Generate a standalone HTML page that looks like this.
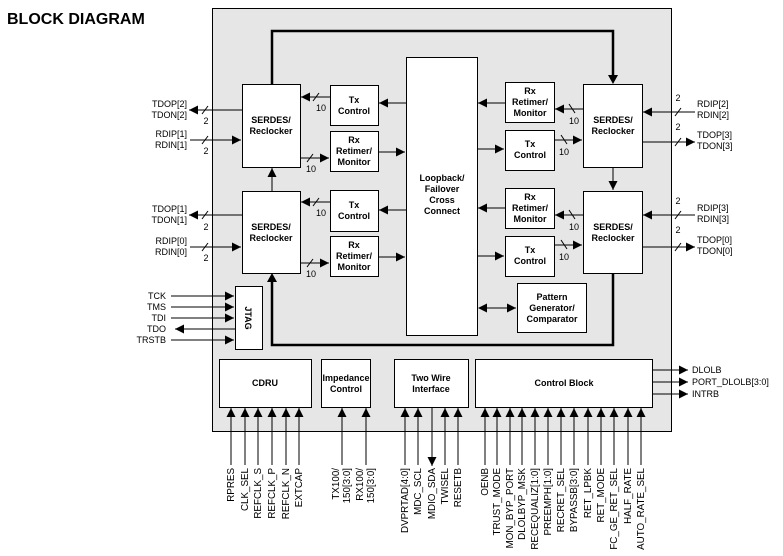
<!DOCTYPE html>
<html><head><meta charset="utf-8"><style>
html,body{margin:0;padding:0;background:#fff}
svg{display:block}
text{font-family:"Liberation Sans",Arial,sans-serif;fill:#000}
.b{font-weight:bold;font-size:9px;text-anchor:middle}
.s{font-size:9px}
.v{font-size:9.8px}
.n{font-size:9px;text-anchor:middle}
rect.bx{fill:#fff;stroke:#000;stroke-width:1}
line{stroke:#000;stroke-width:1}
</style></head><body>
<svg width="783" height="556" viewBox="0 0 783 556" xmlns="http://www.w3.org/2000/svg">
<defs>
<marker id="a" markerUnits="userSpaceOnUse" markerWidth="10" markerHeight="10" refX="9" refY="5" orient="auto"><path d="M0,0.5 L9,5 L0,9.5 Z" fill="#000"/></marker>
<marker id="s" markerUnits="userSpaceOnUse" markerWidth="10" markerHeight="10" refX="1" refY="5" orient="auto"><path d="M9,0.5 L0,5 L9,9.5 Z" fill="#000"/></marker>
</defs>
<text x="7" y="24" style="font-weight:bold;font-size:16px">BLOCK DIAGRAM</text>
<rect x="212.5" y="8.5" width="459" height="423" fill="#e6e6e6" stroke="#000"/>

<polyline points="272,84 272,31 613,31 613,76" fill="none" stroke="#000" stroke-width="2.5"/>
<path d="M608,75 L618,75 L613,84 Z"/>
<polyline points="613,273 613,345 272,345 272,282" fill="none" stroke="#000" stroke-width="2.5"/>
<path d="M267,282 L277,282 L272,273 Z"/>

<rect class="bx" x="242.5" y="84.5" width="58" height="83"/>
<text class="b" x="271" y="123">SERDES/</text><text class="b" x="271" y="134">Reclocker</text>
<rect class="bx" x="242.5" y="191.5" width="58" height="82"/>
<text class="b" x="271" y="230">SERDES/</text><text class="b" x="271" y="241">Reclocker</text>
<rect class="bx" x="330.5" y="85.5" width="48" height="40"/>
<text class="b" x="354" y="103">Tx</text><text class="b" x="354" y="114">Control</text>
<rect class="bx" x="330.5" y="131.5" width="48" height="40"/>
<text class="b" x="354" y="143">Rx</text><text class="b" x="354" y="154">Retimer/</text><text class="b" x="354" y="165">Monitor</text>
<rect class="bx" x="330.5" y="190.5" width="48" height="41"/>
<text class="b" x="354" y="208">Tx</text><text class="b" x="354" y="219">Control</text>
<rect class="bx" x="330.5" y="236.5" width="48" height="40"/>
<text class="b" x="354" y="248">Rx</text><text class="b" x="354" y="259">Retimer/</text><text class="b" x="354" y="270">Monitor</text>
<rect class="bx" x="406.5" y="57.5" width="71" height="278"/>
<text class="b" x="442" y="181">Loopback/</text><text class="b" x="442" y="192">Failover</text><text class="b" x="442" y="203">Cross</text><text class="b" x="442" y="214">Connect</text>
<rect class="bx" x="505.5" y="82.5" width="49" height="40"/>
<text class="b" x="530" y="94">Rx</text><text class="b" x="530" y="105">Retimer/</text><text class="b" x="530" y="116">Monitor</text>
<rect class="bx" x="505.5" y="130.5" width="49" height="40"/>
<text class="b" x="530" y="147">Tx</text><text class="b" x="530" y="158">Control</text>
<rect class="bx" x="583.5" y="84.5" width="59" height="83"/>
<text class="b" x="613" y="123">SERDES/</text><text class="b" x="613" y="134">Reclocker</text>
<rect class="bx" x="505.5" y="188.5" width="49" height="40"/>
<text class="b" x="530" y="200">Rx</text><text class="b" x="530" y="211">Retimer/</text><text class="b" x="530" y="222">Monitor</text>
<rect class="bx" x="505.5" y="236.5" width="49" height="40"/>
<text class="b" x="530" y="253">Tx</text><text class="b" x="530" y="264">Control</text>
<rect class="bx" x="583.5" y="191.5" width="59" height="82"/>
<text class="b" x="613" y="230">SERDES/</text><text class="b" x="613" y="241">Reclocker</text>
<rect class="bx" x="517.5" y="283.5" width="69" height="49"/>
<text class="b" x="552" y="300">Pattern</text><text class="b" x="552" y="311">Generator/</text><text class="b" x="552" y="322">Comparator</text>
<rect class="bx" x="235.5" y="286.5" width="27" height="63"/>
<text class="b" transform="translate(245,318) rotate(90)">JTAG</text>

<rect class="bx" x="219.5" y="359.5" width="92" height="48"/>
<text class="b" x="265" y="386">CDRU</text>
<rect class="bx" x="321.5" y="359.5" width="49" height="48"/>
<text class="b" x="346" y="381">Impedance</text><text class="b" x="346" y="392">Control</text>
<rect class="bx" x="394.5" y="359.5" width="74" height="48"/>
<text class="b" x="431" y="381">Two Wire</text><text class="b" x="431" y="392">Interface</text>
<rect class="bx" x="475.5" y="359.5" width="177" height="48"/>
<text class="b" x="564" y="386">Control Block</text>

<line x1="272" y1="191" x2="272" y2="168" marker-end="url(#a)"/>
<line x1="613" y1="167" x2="613" y2="190" marker-end="url(#a)"/>

<line x1="330" y1="97" x2="301" y2="97" marker-end="url(#a)"/><line x1="313" y1="101" x2="319" y2="93"/><text class="n" x="321" y="111">10</text>
<line x1="301" y1="158" x2="329" y2="158" marker-end="url(#a)"/><line x1="307" y1="162" x2="313" y2="154"/><text class="n" x="311" y="172">10</text>
<line x1="330" y1="202" x2="301" y2="202" marker-end="url(#a)"/><line x1="313" y1="206" x2="319" y2="198"/><text class="n" x="321" y="216">10</text>
<line x1="301" y1="263" x2="329" y2="263" marker-end="url(#a)"/><line x1="307" y1="267" x2="313" y2="259"/><text class="n" x="311" y="277">10</text>
<line x1="406" y1="103" x2="379" y2="103" marker-end="url(#a)"/>
<line x1="379" y1="152" x2="405" y2="152" marker-end="url(#a)"/>
<line x1="406" y1="210" x2="379" y2="210" marker-end="url(#a)"/>
<line x1="379" y1="257" x2="405" y2="257" marker-end="url(#a)"/>

<line x1="505" y1="103" x2="478" y2="103" marker-end="url(#a)"/>
<line x1="583" y1="109" x2="555" y2="109" marker-end="url(#a)"/><line x1="569" y1="104" x2="575" y2="113"/><text class="n" x="574" y="124">10</text>
<line x1="478" y1="149" x2="504" y2="149" marker-end="url(#a)"/>
<line x1="555" y1="140" x2="582" y2="140" marker-end="url(#a)"/><line x1="561" y1="135" x2="567" y2="144"/><text class="n" x="564" y="155">10</text>
<line x1="505" y1="208" x2="478" y2="208" marker-end="url(#a)"/>
<line x1="583" y1="215" x2="555" y2="215" marker-end="url(#a)"/><line x1="569" y1="210" x2="575" y2="219"/><text class="n" x="574" y="230">10</text>
<line x1="478" y1="256" x2="504" y2="256" marker-end="url(#a)"/>
<line x1="555" y1="245" x2="582" y2="245" marker-end="url(#a)"/><line x1="561" y1="240" x2="567" y2="249"/><text class="n" x="564" y="260">10</text>
<line x1="479" y1="308" x2="516" y2="308" marker-start="url(#s)" marker-end="url(#a)"/>

<line x1="242" y1="110" x2="189" y2="110" marker-end="url(#a)"/><line x1="202" y1="114" x2="208" y2="106"/><text class="n" x="206" y="124">2</text>
<text class="s" x="187" y="107" text-anchor="end">TDOP[2]</text><text class="s" x="187" y="118" text-anchor="end">TDON[2]</text>
<line x1="190" y1="140" x2="241" y2="140" marker-end="url(#a)"/><line x1="202" y1="144" x2="208" y2="136"/><text class="n" x="206" y="154">2</text>
<text class="s" x="187" y="137" text-anchor="end">RDIP[1]</text><text class="s" x="187" y="148" text-anchor="end">RDIN[1]</text>
<line x1="242" y1="215" x2="189" y2="215" marker-end="url(#a)"/><line x1="202" y1="219" x2="208" y2="211"/><text class="n" x="206" y="230">2</text>
<text class="s" x="187" y="212" text-anchor="end">TDOP[1]</text><text class="s" x="187" y="223" text-anchor="end">TDON[1]</text>
<line x1="190" y1="247" x2="241" y2="247" marker-end="url(#a)"/><line x1="202" y1="251" x2="208" y2="243"/><text class="n" x="206" y="261">2</text>
<text class="s" x="187" y="244" text-anchor="end">RDIP[0]</text><text class="s" x="187" y="255" text-anchor="end">RDIN[0]</text>

<line x1="171" y1="296" x2="234" y2="296" marker-end="url(#a)"/><text class="s" x="166" y="299" text-anchor="end">TCK</text>
<line x1="171" y1="307" x2="234" y2="307" marker-end="url(#a)"/><text class="s" x="166" y="310" text-anchor="end">TMS</text>
<line x1="171" y1="318" x2="234" y2="318" marker-end="url(#a)"/><text class="s" x="166" y="321" text-anchor="end">TDI</text>
<line x1="235" y1="329" x2="175" y2="329" marker-end="url(#a)"/><text class="s" x="166" y="332" text-anchor="end">TDO</text>
<line x1="171" y1="340" x2="234" y2="340" marker-end="url(#a)"/><text class="s" x="166" y="343" text-anchor="end">TRSTB</text>

<line x1="695" y1="112" x2="643" y2="112" marker-end="url(#a)"/><line x1="675" y1="116" x2="681" y2="108"/><text class="n" x="678" y="101">2</text>
<text class="s" x="697" y="107">RDIP[2]</text><text class="s" x="697" y="118">RDIN[2]</text>
<line x1="642" y1="142" x2="695" y2="142" marker-end="url(#a)"/><line x1="675" y1="146" x2="681" y2="138"/><text class="n" x="678" y="130">2</text>
<text class="s" x="697" y="138">TDOP[3]</text><text class="s" x="697" y="149">TDON[3]</text>
<line x1="695" y1="215" x2="643" y2="215" marker-end="url(#a)"/><line x1="675" y1="219" x2="681" y2="211"/><text class="n" x="678" y="204">2</text>
<text class="s" x="697" y="211">RDIP[3]</text><text class="s" x="697" y="222">RDIN[3]</text>
<line x1="642" y1="247" x2="695" y2="247" marker-end="url(#a)"/><line x1="675" y1="251" x2="681" y2="243"/><text class="n" x="678" y="233">2</text>
<text class="s" x="697" y="243">TDOP[0]</text><text class="s" x="697" y="254">TDON[0]</text>

<line x1="652" y1="370" x2="688" y2="370" marker-end="url(#a)"/><text class="s" x="692" y="373">DLOLB</text>
<line x1="652" y1="382" x2="688" y2="382" marker-end="url(#a)"/><text class="s" x="692" y="385">PORT_DLOLB[3:0]</text>
<line x1="652" y1="394" x2="688" y2="394" marker-end="url(#a)"/><text class="s" x="692" y="397">INTRB</text>

<g>
<line x1="231" y1="465" x2="231" y2="408" marker-end="url(#a)"/><text class="v" transform="translate(234,468) rotate(-90)" text-anchor="end">RPRES</text>
<line x1="245" y1="465" x2="245" y2="408" marker-end="url(#a)"/><text class="v" transform="translate(248,468) rotate(-90)" text-anchor="end">CLK_SEL</text>
<line x1="258" y1="465" x2="258" y2="408" marker-end="url(#a)"/><text class="v" transform="translate(261,468) rotate(-90)" text-anchor="end">REFCLK_S</text>
<line x1="272" y1="465" x2="272" y2="408" marker-end="url(#a)"/><text class="v" transform="translate(275,468) rotate(-90)" text-anchor="end">REFCLK_P</text>
<line x1="286" y1="465" x2="286" y2="408" marker-end="url(#a)"/><text class="v" transform="translate(289,468) rotate(-90)" text-anchor="end">REFCLK_N</text>
<line x1="299" y1="465" x2="299" y2="408" marker-end="url(#a)"/><text class="v" transform="translate(302,468) rotate(-90)" text-anchor="end">EXTCAP</text>
<line x1="342" y1="465" x2="342" y2="408" marker-end="url(#a)"/><text class="v" transform="translate(339,468) rotate(-90)" text-anchor="end">TX100/</text><text class="v" transform="translate(350,468) rotate(-90)" text-anchor="end">150[3:0]</text>
<line x1="366" y1="465" x2="366" y2="408" marker-end="url(#a)"/><text class="v" transform="translate(363,468) rotate(-90)" text-anchor="end">RX100/</text><text class="v" transform="translate(374,468) rotate(-90)" text-anchor="end">150[3:0]</text>
<line x1="405" y1="465" x2="405" y2="408" marker-end="url(#a)"/><text class="v" transform="translate(408,468) rotate(-90)" text-anchor="end">DVPRTAD[4:0]</text>
<line x1="418" y1="465" x2="418" y2="408" marker-end="url(#a)"/><text class="v" transform="translate(421,468) rotate(-90)" text-anchor="end">MDC_SCL</text>
<line x1="432" y1="408" x2="432" y2="466" marker-end="url(#a)"/><text class="v" transform="translate(435,468) rotate(-90)" text-anchor="end">MDIO_SDA</text>
<line x1="445" y1="465" x2="445" y2="408" marker-end="url(#a)"/><text class="v" transform="translate(448,468) rotate(-90)" text-anchor="end">TWISEL</text>
<line x1="458" y1="465" x2="458" y2="408" marker-end="url(#a)"/><text class="v" transform="translate(461,468) rotate(-90)" text-anchor="end">RESETB</text>
<line x1="485" y1="465" x2="485" y2="408" marker-end="url(#a)"/><text class="v" transform="translate(488,468) rotate(-90)" text-anchor="end">OENB</text>
<line x1="497" y1="465" x2="497" y2="408" marker-end="url(#a)"/><text class="v" transform="translate(500,468) rotate(-90)" text-anchor="end">TRUST_MODE</text>
<line x1="510" y1="465" x2="510" y2="408" marker-end="url(#a)"/><text class="v" transform="translate(513,468) rotate(-90)" text-anchor="end">MON_BYP_PORT</text>
<line x1="522" y1="465" x2="522" y2="408" marker-end="url(#a)"/><text class="v" transform="translate(525,468) rotate(-90)" text-anchor="end">DLOLBYP_MSK</text>
<line x1="535" y1="465" x2="535" y2="408" marker-end="url(#a)"/><text class="v" transform="translate(538,468) rotate(-90)" text-anchor="end">RECEQUALIZ[1:0]</text>
<line x1="548" y1="465" x2="548" y2="408" marker-end="url(#a)"/><text class="v" transform="translate(551,468) rotate(-90)" text-anchor="end">PREEMPH[1:0]</text>
<line x1="561" y1="465" x2="561" y2="408" marker-end="url(#a)"/><text class="v" transform="translate(564,468) rotate(-90)" text-anchor="end">RECRET_SEL</text>
<line x1="574" y1="465" x2="574" y2="408" marker-end="url(#a)"/><text class="v" transform="translate(577,468) rotate(-90)" text-anchor="end">BYPASSB[3:0]</text>
<line x1="588" y1="465" x2="588" y2="408" marker-end="url(#a)"/><text class="v" transform="translate(591,468) rotate(-90)" text-anchor="end">RET_LPBK</text>
<line x1="601" y1="465" x2="601" y2="408" marker-end="url(#a)"/><text class="v" transform="translate(604,468) rotate(-90)" text-anchor="end">RET_MODE</text>
<line x1="614" y1="465" x2="614" y2="408" marker-end="url(#a)"/><text class="v" transform="translate(617,468) rotate(-90)" text-anchor="end">FC_GE_RET_SEL</text>
<line x1="628" y1="465" x2="628" y2="408" marker-end="url(#a)"/><text class="v" transform="translate(631,468) rotate(-90)" text-anchor="end">HALF_RATE</text>
<line x1="641" y1="465" x2="641" y2="408" marker-end="url(#a)"/><text class="v" transform="translate(644,468) rotate(-90)" text-anchor="end">AUTO_RATE_SEL</text>
</g>
</svg>
</body></html>
